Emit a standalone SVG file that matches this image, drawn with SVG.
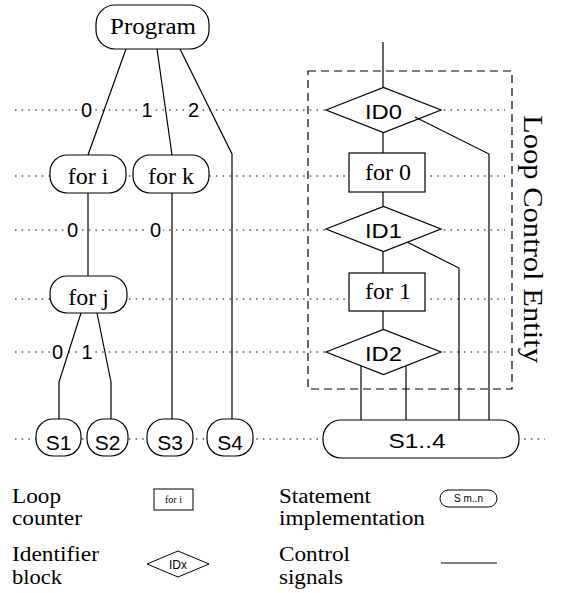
<svg xmlns="http://www.w3.org/2000/svg" width="562" height="593" viewBox="0 0 562 593">
<style>
.dot{stroke:#000;stroke-width:1.2;stroke-dasharray:1.5 5.2;fill:none}
.ln{stroke:#000;stroke-width:1.2;fill:none}
.nd{stroke:#000;stroke-width:1.2;fill:#fff}
.serif{font-family:"Liberation Serif","Times New Roman",serif;fill:#000}
.sans{font-family:"Liberation Sans",Arial,sans-serif;fill:#000}
.lbl{font-family:"Liberation Sans",Arial,sans-serif;font-size:20px;text-anchor:middle;stroke:#fff;stroke-width:5;paint-order:stroke;fill:#000}
.c{text-anchor:middle}
.leg{font-family:"Liberation Serif","Times New Roman",serif;font-size:20px;fill:#000}
</style>
<g id="gridlines">
<line class="dot" x1="15" y1="110" x2="505" y2="110"/>
<line class="dot" x1="15" y1="176" x2="505" y2="176"/>
<line class="dot" x1="15" y1="230" x2="505" y2="230"/>
<line class="dot" x1="15" y1="299" x2="505" y2="299"/>
<line class="dot" x1="15" y1="352" x2="505" y2="352"/>
<line class="dot" x1="15" y1="439" x2="545" y2="439"/>
</g>
<g id="connectors">
<line class="ln" x1="126" y1="49" x2="88" y2="155"/>
<line class="ln" x1="157" y1="49" x2="172" y2="155"/>
<polyline class="ln" points="180,49 232,154 232,420"/>
<line class="ln" x1="88" y1="193" x2="88" y2="276"/>
<line class="ln" x1="172" y1="193" x2="172" y2="420"/>
<polyline class="ln" points="81,313 59,382 59,420"/>
<polyline class="ln" points="97,313 111,382 111,420"/>
<line class="ln" x1="383" y1="42" x2="383" y2="87"/>
<line class="ln" x1="383" y1="132" x2="383" y2="153"/>
<line class="ln" x1="383" y1="192" x2="383" y2="206"/>
<line class="ln" x1="383" y1="251" x2="383" y2="273"/>
<line class="ln" x1="383" y1="311" x2="383" y2="329"/>
<polyline class="ln" points="407,242 459,268 459,420"/>
<line class="ln" x1="361" y1="365" x2="361" y2="420"/>
<line class="ln" x1="406" y1="365" x2="406" y2="420"/>
</g>
<g id="edge-labels">
<text class="lbl" x="86.5" y="117">0</text>
<text class="lbl" x="147" y="117">1</text>
<text class="lbl" x="193.5" y="117">2</text>
<text class="lbl" x="72.5" y="237">0</text>
<text class="lbl" x="155.5" y="237">0</text>
<text class="lbl" x="57.5" y="359">0</text>
<text class="lbl" x="87" y="359">1</text>
</g>
<g id="program"><rect class="nd" x="96" y="5" width="113" height="44" rx="19"/><text class="serif c" x="153" y="34" font-size="24" textLength="86" lengthAdjust="spacingAndGlyphs">Program</text></g>
<g id="for-i"><rect class="nd" x="50" y="155" width="76" height="38" rx="17"/><text class="serif c" x="88" y="184" font-size="24">for i</text></g>
<g id="for-k"><rect class="nd" x="133" y="155" width="76" height="38" rx="17"/><text class="serif c" x="171" y="184" font-size="24">for k</text></g>
<g id="for-j"><rect class="nd" x="50" y="276" width="77" height="37" rx="17"/><text class="serif c" x="88.5" y="305" font-size="24">for j</text></g>
<g id="s1"><rect class="nd" x="36" y="419" width="45" height="37" rx="17"/><text class="sans c" x="58.5" y="450" font-size="21">S1</text></g>
<g id="s2"><rect class="nd" x="87" y="419" width="41" height="37" rx="17"/><text class="sans c" x="107.5" y="450" font-size="21">S2</text></g>
<g id="s3"><rect class="nd" x="147" y="419" width="46" height="37" rx="17"/><text class="sans c" x="170" y="450" font-size="21">S3</text></g>
<g id="s4"><rect class="nd" x="207" y="419" width="46" height="37" rx="17"/><text class="sans c" x="230" y="450" font-size="21">S4</text></g>
<g id="lce-box"><rect x="308" y="71" width="204" height="318" fill="none" stroke="#000" stroke-width="1.2" stroke-dasharray="8 5"/><text class="serif" transform="translate(524,115) rotate(90)" font-size="28" textLength="248" lengthAdjust="spacingAndGlyphs">Loop Control Entity</text></g>
<g id="id0"><polygon class="nd" points="326,110 383.5,87.5 441,110 383.5,132.5"/><text class="sans c" x="383.5" y="119" font-size="21" textLength="37" lengthAdjust="spacingAndGlyphs">ID0</text></g>
<polyline id="id0-signal" class="ln" points="415,117 489,154 489,420"/>
<g id="for0"><rect class="nd" x="349" y="153" width="76" height="39"/><text class="serif c" x="388" y="180" font-size="24">for 0</text></g>
<g id="id1"><polygon class="nd" points="326,229 383.5,206.5 441,229 383.5,251.5"/><text class="sans c" x="383.5" y="238" font-size="21" textLength="37" lengthAdjust="spacingAndGlyphs">ID1</text></g>
<g id="for1"><rect class="nd" x="349" y="273" width="76" height="38"/><text class="serif c" x="388" y="299" font-size="24">for 1</text></g>
<g id="id2"><polygon class="nd" points="326,352 383.5,329.5 441,352 383.5,374.5"/><text class="sans c" x="383.5" y="361" font-size="21" textLength="37" lengthAdjust="spacingAndGlyphs">ID2</text></g>
<g id="s1-4"><rect class="nd" x="323" y="420" width="196" height="38" rx="18"/><text class="sans c" x="417" y="448" font-size="21" textLength="57" lengthAdjust="spacingAndGlyphs">S1..4</text></g>
<g id="legend">
<text class="leg" x="12" y="503" textLength="49" lengthAdjust="spacingAndGlyphs">Loop</text>
<text class="leg" x="12" y="525" textLength="70" lengthAdjust="spacingAndGlyphs">counter</text>
<rect x="154" y="489" width="39" height="21" fill="#fff" stroke="#000" stroke-width="1"/>
<text class="serif c" x="173.5" y="503" font-size="10">for i</text>
<text class="leg" x="279" y="503" textLength="92" lengthAdjust="spacingAndGlyphs">Statement</text>
<text class="leg" x="279" y="525" textLength="146" lengthAdjust="spacingAndGlyphs">implementation</text>
<rect x="440" y="490" width="57" height="17" rx="8.5" fill="#fff" stroke="#000" stroke-width="1"/>
<text class="sans c" x="468.5" y="502" font-size="10">S  m..n</text>
<text class="leg" x="12" y="561" textLength="87" lengthAdjust="spacingAndGlyphs">Identifier</text>
<text class="leg" x="12" y="584" textLength="50" lengthAdjust="spacingAndGlyphs">block</text>
<polygon points="147,564 178,551 209,564 178,577" fill="#fff" stroke="#000" stroke-width="1"/>
<text class="sans c" x="178" y="569" font-size="12">IDx</text>
<text class="leg" x="279" y="561" textLength="71" lengthAdjust="spacingAndGlyphs">Control</text>
<text class="leg" x="279" y="584" textLength="64" lengthAdjust="spacingAndGlyphs">signals</text>
<line x1="441" y1="563" x2="497" y2="563" stroke="#000" stroke-width="1.2"/>
</g>
</svg>
